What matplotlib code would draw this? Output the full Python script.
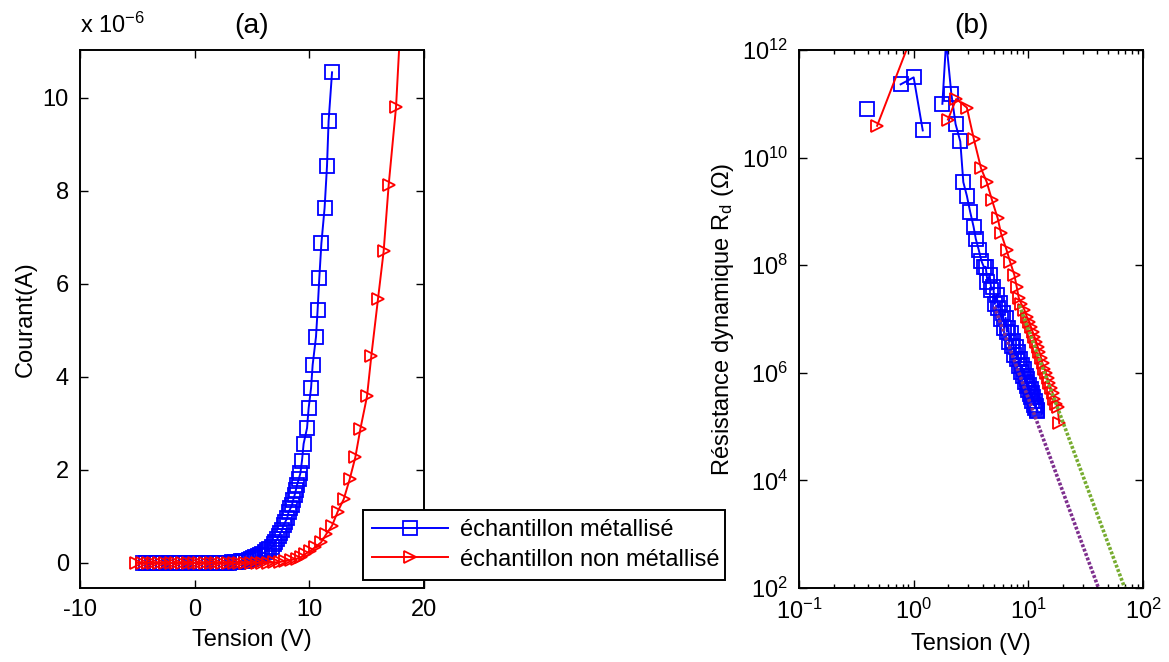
import numpy as np
import matplotlib
matplotlib.use("Agg")
import matplotlib.pyplot as plt
from matplotlib.ticker import LogLocator, NullLocator

plt.rcParams["font.family"] = ["Liberation Sans", "DejaVu Sans"]
plt.rcParams["font.size"] = 17
plt.rcParams["axes.unicode_minus"] = False
plt.rcParams["mathtext.fontset"] = "custom"
plt.rcParams["mathtext.rm"] = "Liberation Sans"
plt.rcParams["mathtext.it"] = "Liberation Sans:italic"
plt.rcParams["mathtext.default"] = "regular"

# (a) courbes I-V, courant en 1e-6 A
v_metal = [-4.5, -4.25, -4.0, -3.75, -3.5, -3.25, -3.0, -2.75, -2.5, -2.25,
           -2.0, -1.75, -1.5, -1.25, -1.0, -0.75, -0.5, -0.25, 0.0, 0.25,
           0.5, 0.75, 1.0, 1.25, 1.5, 1.75, 2.0, 2.25, 2.5, 2.75,
           3.0, 3.25, 3.5, 3.75, 4.0, 4.25, 4.5, 4.7, 4.9, 5.1,
           5.3, 5.5, 5.7, 5.88, 6.1, 6.31, 6.5, 6.75, 6.9, 7.04,
           7.2, 7.33, 7.48, 7.62, 7.76, 7.9, 8.06, 8.2, 8.35, 8.49,
           8.6, 8.72, 8.83, 8.93, 9.08, 9.22, 9.36, 9.5, 9.8, 9.94,
           10.15, 10.29, 10.58, 10.72, 10.87, 11.05, 11.33, 11.54, 11.68, 11.98]
i_metal = [0.0, 0.0, 0.0, 0.0, 0.0, 0.0, 0.0, 0.0, 0.0, 0.0,
           0.0, 0.0, 0.0, 0.0, 0.0, 0.0, 0.0, 0.0, 0.0, 0.0,
           0.0, 0.0, 0.0, 0.0, 0.0, 0.0, 0.0, 0.0, 0.0, 0.0,
           0.0, 0.01, 0.01, 0.02, 0.03, 0.04, 0.05, 0.07, 0.08, 0.10,
           0.12, 0.14, 0.17, 0.19, 0.23, 0.27, 0.30, 0.35, 0.40, 0.46,
           0.51, 0.57, 0.64, 0.71, 0.82, 0.88, 0.96, 1.10, 1.17, 1.25,
           1.36, 1.46, 1.57, 1.68, 1.80, 1.93, 2.20, 2.56, 2.90, 3.33,
           3.76, 4.26, 4.86, 5.43, 6.13, 6.87, 7.63, 8.53, 9.50, 10.55]

v_nonmetal = [-5.1, -4.6, -4.1, -3.6, -3.1, -2.6, -2.1, -1.6, -1.1, -0.6,
              -0.1, 0.4, 0.9, 1.4, 1.9, 2.4, 2.9, 3.4, 3.9, 4.4,
              4.9, 5.4, 5.9, 6.4, 6.9, 7.4, 7.9, 8.4, 8.9, 9.3,
              9.65, 10.09, 10.52, 11.02, 11.48, 11.98, 12.47, 13.0, 13.52, 14.01,
              14.45, 15.03, 15.41, 15.99, 16.48, 16.92, 17.56, 18.1]
i_nonmetal = [0.0, 0.0, 0.0, 0.0, 0.0, 0.0, 0.0, 0.0, 0.0, 0.0,
              0.0, 0.0, 0.0, 0.0, 0.0, 0.0, 0.0, 0.0, 0.0, 0.0,
              0.0, 0.0, 0.0, 0.0, 0.01, 0.02, 0.04, 0.06, 0.09, 0.13,
              0.19, 0.26, 0.34, 0.44, 0.62, 0.80, 1.10, 1.37, 1.80, 2.27,
              2.88, 3.58, 4.46, 5.68, 6.70, 8.13, 9.80, 12.3]

# (b) résistance dynamique (nan = valeur négative, non tracée en log)
vr_metal = [0.395, 0.6, 0.77, 1.0, 1.2, 1.5, 1.78, 1.92, 2.13, 2.32,
            2.55, 2.71, 2.91, 3.11, 3.33, 3.48, 3.70, 3.90, 4.09, 4.25,
            4.4, 4.6, 4.75, 4.95, 5.1, 5.3, 5.45, 5.65, 5.8, 6.0,
            6.15, 6.35, 6.5, 6.7, 6.85, 7.05, 7.2, 7.4, 7.55, 7.75,
            7.9, 8.1, 8.25, 8.45, 8.6, 8.8, 8.95, 9.15, 9.3, 9.5,
            9.65, 9.8, 9.94, 10.15, 10.29, 10.45, 10.58, 10.72, 10.87, 11.05,
            11.2, 11.33, 11.54, 11.68, 11.85, 11.98]
rd_metal = [7.9e10, np.nan, 2.3e11, 3.1e11, 3.2e10, np.nan, 1.0e11, 1.5e12, 1.55e11, 4.2e10,
            2.0e10, 3.5e9, 1.95e9, 9.8e8, 5.2e8, 3.1e8, 1.9e8, 1.2e8, 9.3e7, 9.3e7,
            4.9e7, 6.6e7, 3.5e7, 3.9e7, 1.9e7, 2.8e7, 1.6e7, 2.0e7, 1.0e7, 1.3e7,
            6.8e6, 1.05e7, 5.8e6, 6.9e6, 3.8e6, 5.4e6, 3.2e6, 3.9e6, 2.1e6, 3.0e6,
            1.8e6, 2.45e6, 1.35e6, 1.8e6, 1.05e6, 1.4e6, 8.7e5, 1.17e6, 6.8e5, 8.9e5,
            5.6e5, 7.6e5, 4.8e5, 5.9e5, 4.0e5, 5.0e5, 3.5e5, 4.2e5, 3.0e5, 3.5e5,
            2.5e5, 2.95e5, 2.2e5, 2.45e5, 1.95e5, 2.0e5]

vr_nonmetal = [0.48, 0.98, 1.48, 1.99, 2.35, 2.91, 3.35, 3.87, 4.34, 4.83,
               5.41, 5.78, 6.47, 6.92, 7.55, 7.91, 8.24, 8.7, 9.23, 9.7,
               10.2, 10.55, 10.9, 11.3, 11.7, 12.1, 12.5, 12.9, 13.3, 13.8,
               14.3, 14.7, 15.2, 15.7, 16.3, 16.9, 17.5, 18.0, 18.6]
rd_nonmetal = [3.9e10, 2.0e12, np.nan, 5.1e10, 1.23e11, 8.5e10, 2.2e10, 6.3e9, 3.5e9, 1.6e9,
               7.4e8, 3.9e8, 1.9e8, 1.17e8, 6.6e7, 4.0e7, 2.5e7, 1.9e7, 1.5e7, 1.1e7,
               8.9e6, 7.1e6, 5.8e6, 4.7e6, 3.8e6, 3.0e6, 2.45e6, 1.9e6, 1.5e6, 1.2e6,
               9.8e5, 7.9e5, 6.5e5, 5.2e5, 4.2e5, 3.2e5, 2.6e5, 2.3e5, 1.15e5]

# droites d'ajustement (extrémités)
fit_metal_v = [5.06, 40.9]
fit_metal_rd = [1.7e7, 1.0e2]
fit_nonmetal_v = [8.35, 69.3]
fit_nonmetal_rd = [1.8e7, 1.0e2]

labels = ["échantillon métallisé", "échantillon non métallisé"]

fig = plt.figure(figsize=(11.69, 6.62), dpi=100)
ax1 = fig.add_axes([80 / 1169, 1 - 588 / 662, 344 / 1169, 538 / 662])
ax2 = fig.add_axes([799 / 1169, 1 - 588 / 662, 344 / 1169, 538 / 662])

style = dict(mfc="none", mew=1.3, lw=1.4)
ax1.plot(v_metal, i_metal, "s-", color="blue", ms=10, label=labels[0], **style)
ax1.plot(v_nonmetal, i_nonmetal, ">-", color="red", ms=9, label=labels[1], **style)
ax1.set_xlim(-10, 20)
ax1.set_ylim(-0.54, 11.03)
ax1.set_xticks([-10, 0, 10, 20])
ax1.set_yticks([0, 2, 4, 6, 8, 10])
ax1.set_xlabel("Tension (V)", labelpad=6)
ax1.set_ylabel("Courant(A)")
ax1.set_title("(a)", pad=12)
ax1.text(0.0, 1.022, r"x 10$^{-6}$", transform=ax1.transAxes, ha="left", va="bottom")

ax2.plot(vr_metal, rd_metal, "s-", color="blue", ms=10, **style)
ax2.plot(vr_nonmetal, rd_nonmetal, ">-", color="red", ms=9, **style)
dense_dot = (0, (0.8, 0.5))
ax2.plot(fit_metal_v, fit_metal_rd, linestyle=dense_dot, color="#7e2f8e", lw=2.6)
ax2.plot(fit_nonmetal_v, fit_nonmetal_rd, linestyle=dense_dot, color="#77ac30", lw=2.6)
ax2.set_xscale("log")
ax2.set_yscale("log")
ax2.set_xlim(0.1, 100)
ax2.set_ylim(1e2, 1e12)
ax2.set_yticks([1e2, 1e4, 1e6, 1e8, 1e10, 1e12])
ax2.yaxis.set_minor_locator(NullLocator())
ax2.xaxis.set_major_locator(LogLocator(base=10, numticks=10))
ax2.xaxis.set_minor_locator(LogLocator(base=10, subs=np.arange(2, 10), numticks=10))
ax2.set_xlabel("Tension (V)", labelpad=6)
ax2.set_ylabel(r"Résistance dynamique R$_d$ ($\Omega$)")
ax2.set_title("(b)", pad=12)

for ax in (ax1, ax2):
    ax.tick_params(which="both", direction="in", top=True, right=True, pad=8)
    ax.tick_params(which="major", length=6, width=1)
    ax.tick_params(which="minor", length=3, width=1)
    for s in ax.spines.values():
        s.set_linewidth(1.4)

leg = ax1.legend(loc="lower left", bbox_to_anchor=(363 / 1169, 1 - 580 / 662, 362 / 1169, 75 / 662),
                 bbox_transform=fig.transFigure, mode="expand", borderaxespad=0,
                 fancybox=False, framealpha=1, edgecolor="black", handlelength=3.2,
                 fontsize=17, labelspacing=0.3, borderpad=0.4, handletextpad=0.5)
leg.get_frame().set_linewidth(1.4)

fig.savefig("out.png", dpi=100)
